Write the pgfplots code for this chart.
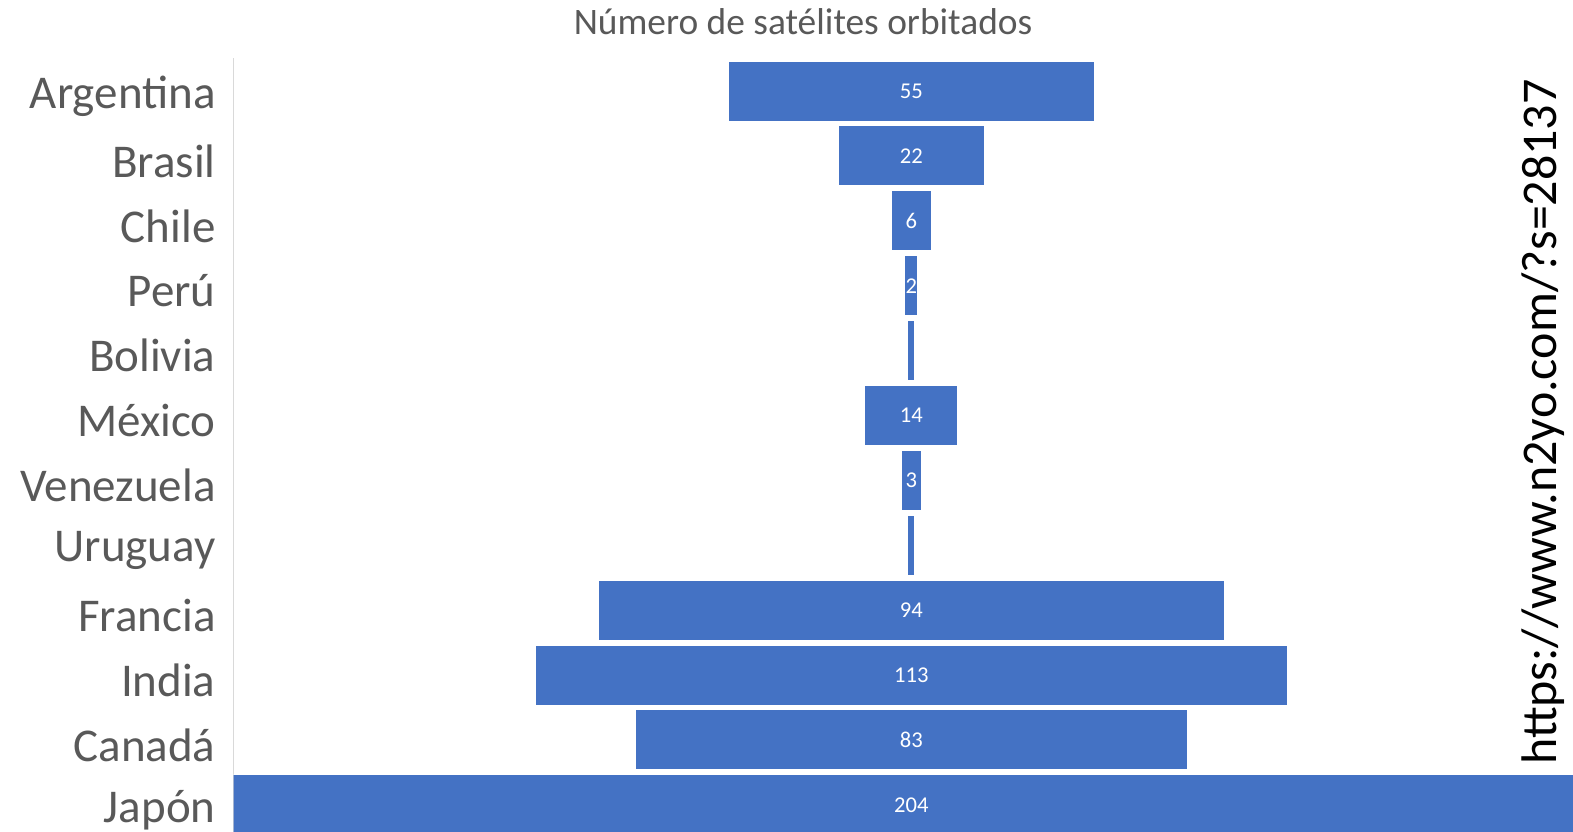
\documentclass[border=0pt]{standalone}
\usepackage{pgfplots}
\pgfplotsset{compat=1.18}
\usepackage{pgfplotstable}
\usepackage{fontspec}
\setmainfont{Carlito}
\definecolor{barblue}{HTML}{4472C4}
\definecolor{labgray}{HTML}{595959}
\definecolor{axgray}{HTML}{D9D9D9}

% idx: row, off: left offset so that bars are centred at 102, v: value, ctr: centre for labels, lab: label
\pgfplotstableread{
idx off v ctr lab
0 74.5 55 0 55
1 91 22 0 22
2 99 6 0 6
3 101 2 0 2
4 101.5 1 0 {}
5 95 14 0 14
6 100.5 3 0 3
7 101.5 1 0 {}
8 55 94 0 94
9 45.5 113 0 113
10 60.5 83 0 83
11 0 204 0 204
}\data

\begin{document}
\begin{tikzpicture}
\useasboundingbox (0,0) rectangle (786.5bp,416bp);
\begin{axis}[
  at={(116.8bp,0bp)}, anchor=south west,
  scale only axis, width=669.7bp, height=387bp,
  xbar stacked, bar width=30bp,
  xmin=0.2, xmax=201.4,
  ymin=-0.51, ymax=11.42, y dir=reverse,
  axis x line=none,
  axis y line*=left,
  y axis line style={draw=axgray, line width=0.75bp},
  ytick={0,...,11},
  yticklabels={Argentina,Brasil,Chile,Perú,Bolivia,México,Venezuela,Uruguay,Francia,India,Canadá,Japón},
  major tick length=0pt,
  yticklabel style={font=\fontsize{23.5bp}{26bp}\selectfont, text=labgray, xshift=-5.5bp, yshift=-2.5bp},
]
\addplot[draw=none, fill=none] table[x=off, y=idx] {\data};
\addplot[fill=barblue, draw=white, line width=0.5bp] table[x=v, y=idx] {\data};
\end{axis}
\begin{axis}[
  at={(116.8bp,0bp)}, anchor=south west,
  scale only axis, width=669.7bp, height=387bp,
  xmin=-101.8, xmax=99.4,
  ymin=-0.51, ymax=11.42, y dir=reverse,
  hide axis,
]
\addplot[only marks, mark=none,
  nodes near coords, point meta=explicit symbolic,
  every node near coord/.append style={font=\fontsize{11.3bp}{13bp}\selectfont, text=white, anchor=center}]
  table[x=ctr, y=idx, meta=lab] {\data};
\end{axis}
\node[anchor=center, font=\fontsize{18.7bp}{21bp}\selectfont, text=labgray] at (401.5bp,405bp) {Número de satélites orbitados};
\node[rotate=90, anchor=center, font=\fontsize{25bp}{28bp}\selectfont, text=black] at (771.5bp,205bp) {https://www.n2yo.com/?s=28137};
\end{tikzpicture}
\end{document}
